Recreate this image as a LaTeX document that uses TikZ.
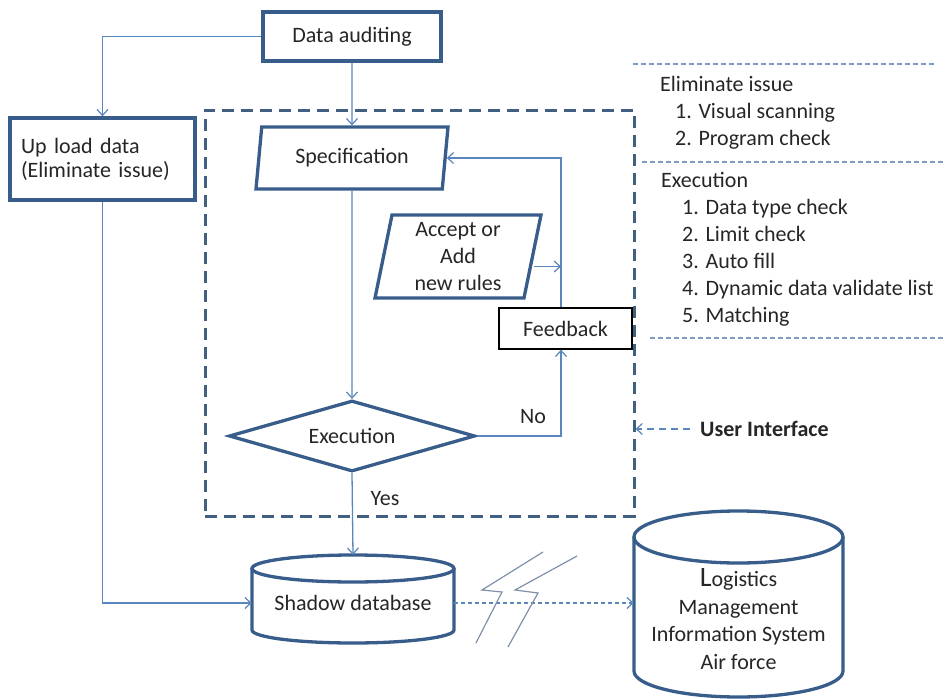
\documentclass[tikz,border=0pt]{standalone}
\usepackage{fontspec}
\setmainfont{Carlito}
\usetikzlibrary{shapes.geometric,arrows.meta,calc}
\definecolor{boxblue}{HTML}{385D8A}
\definecolor{dashblue}{HTML}{41607F}
\definecolor{linkblue}{HTML}{5A86BE}
\definecolor{paneblue}{HTML}{7F9DC4}
\definecolor{boltgray}{HTML}{7F90AA}
\begin{document}
\begin{tikzpicture}[x=1pt,y=-1pt,
  every node/.style={font=\fontsize{22}{26}\selectfont, text=black!85},
  thickbox/.style={draw=boxblue, line width=3.3pt, fill=white, inner sep=0pt},
  link/.style={draw=linkblue, line width=1.3pt, -{Straight Barb[length=6pt,width=11pt,line width=1.2pt]}},
  dotlink/.style={link, dash pattern=on 4pt off 3pt},
  uiarrow/.style={link, dash pattern=on 7pt off 5pt},
  cyl/.style={draw=boxblue, line width=3.3pt},
  panelline/.style={draw=paneblue, line width=1.1pt, dash pattern=on 5pt off 3pt},
  bolt/.style={draw=boltgray, line width=1.2pt},
  paneltext/.style={anchor=base west, inner sep=0pt},
]
\useasboundingbox (0,0) rectangle (946,699);

% user interface frame
\node[draw=dashblue, line width=3pt, dash pattern=on 12pt off 7pt,
      minimum width=429, minimum height=406, inner sep=0pt] (uibox) at (419.5,313) {};

% main nodes
\node[thickbox, minimum width=178, minimum height=49] (da) at (352,36.5) {Data auditing};
\node[thickbox, minimum width=185, minimum height=82, text width=163, align=left,
      font=\fontsize{22}{24}\selectfont] (up) at (102.5,159) {Up load data\\(Eliminate issue)};
\node[thickbox, trapezium, trapezium left angle=73, trapezium right angle=107,
      trapezium stretches body, minimum width=192, minimum height=62] (spec) at (352,158) {Specification};
\node[thickbox, trapezium, trapezium left angle=76, trapezium right angle=104,
      trapezium stretches body, minimum width=166, minimum height=83, align=center,
      font=\fontsize{22}{27}\selectfont] (acc) at (458,256.5) {Accept or\\Add\\new rules};
\node[draw=black, line width=1.3pt, fill=white, minimum width=133, minimum height=41,
      inner sep=0pt] (fb) at (565.5,328.5) {Feedback};
\node[thickbox, diamond, aspect=3.5, minimum width=246, minimum height=71] (exe) at (352,436) {Execution};

% cylinders
\draw[cyl, fill=white] (252,568.5) -- (252,630) arc[start angle=180, end angle=360, x radius=101pt, y radius=13pt] -- (454,568.5);
\draw[cyl] (353,568.5) ellipse [x radius=101pt, y radius=13.5pt];
\node[minimum width=202, minimum height=96, inner sep=0pt] (shadow) at (353,603) {Shadow database};

\draw[cyl, fill=white] (634,537) -- (634,671) arc[start angle=180, end angle=360, x radius=104.5pt, y radius=26pt] -- (843,537);
\draw[cyl] (738.5,537) ellipse [x radius=104.5pt, y radius=26pt];
\node[minimum width=209, inner sep=0pt, align=center, font=\fontsize{22}{27.5}\selectfont]
  (logi) at (738.5,619) {{\fontsize{28}{27.5}\selectfont L}ogistics\\Management\\Information System\\Air force};

% rail coordinates
\coordinate (railb) at ($(fb.south)+(-4.5,0)$);
\coordinate (railt) at ($(fb.north)+(-4.5,0)$);

% connectors
\draw[link] (da.west) -| (up.north);
\draw[link] (da.south) -- (spec.north);
\draw[link] (spec.south) -- (exe.north);
\draw[link] (exe.east) -| (railb);
\draw[link] (railt) |- (spec.east);
\draw[link] ([yshift=-10pt]acc.east) -- ([yshift=-10pt]acc.east -| railt);
\draw[link] (exe.south) -- (shadow.north);
\draw[link] (up.south) |- (shadow.west);
\draw[dotlink] (shadow.east) -- (shadow.east -| logi.west);

% labels
\node[inner sep=0pt] (no) at (533,417) {No};
\node[inner sep=0pt] (yes) at (385,499) {Yes};

% lightning
\draw[bolt] (543,552) -- (482,590) -- (502,592) -- (476,643);
\draw[bolt] (577,556) -- (515,590) -- (538,593) -- (508,647);

% user interface label
\node[inner sep=0pt, anchor=west, font=\fontsize{22}{26}\selectfont\bfseries] (ui) at (700,429) {User Interface};
\draw[uiarrow] ([xshift=-10pt]ui.west) -- (ui.west -| uibox.east);

% right panel
\draw[panelline] (633,64) -- (937,64);
\draw[panelline] (642,162) -- (946,162);
\draw[panelline] (650,338) -- (946,338);
\node[paneltext] (p1) at (660,91) {Eliminate issue};
\node[paneltext] (p2) at (675,118) {1. Visual scanning};
\node[paneltext] (p3) at (675,145) {2. Program check};
\node[paneltext] (p4) at (661,187) {Execution};
\node[paneltext] (p5) at (682,214) {1. Data type check};
\node[paneltext] (p6) at (682,241) {2. Limit check};
\node[paneltext] (p7) at (682,268) {3. Auto fill};
\node[paneltext] (p8) at (682,295) {4. Dynamic data validate list};
\node[paneltext] (p9) at (682,322) {5. Matching};
\end{tikzpicture}
\end{document}
